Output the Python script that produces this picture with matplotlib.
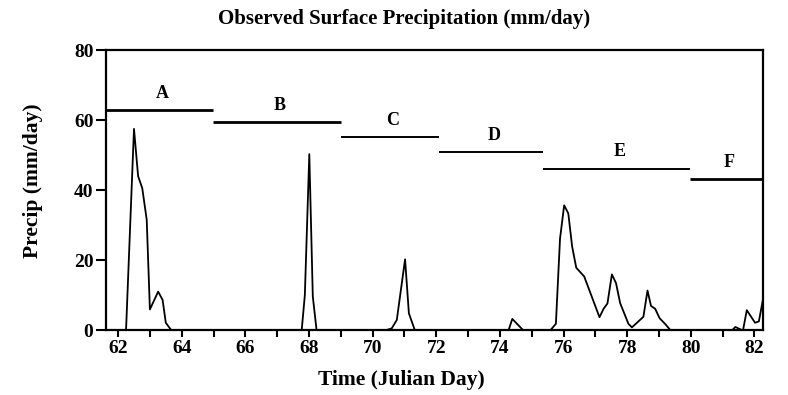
import numpy as np
import matplotlib
matplotlib.use('Agg')
import matplotlib.pyplot as plt

# precipitation trace (vertices)
day = [61.6, 62.25, 62.5, 62.63, 62.76, 62.9, 63.0, 63.26, 63.4, 63.5, 63.68,
       67.77, 67.87, 68.01, 68.12, 68.24,
       70.39, 70.6, 70.76, 71.02, 71.14, 71.33,
       74.27, 74.39, 74.74,
       75.58, 75.76, 75.89, 76.02, 76.15, 76.27, 76.4, 76.65, 77.13, 77.26, 77.38,
       77.52, 77.65, 77.78, 78.04, 78.15, 78.51, 78.64, 78.75, 78.88, 79.02, 79.2, 79.37,
       81.29, 81.4, 81.64, 81.76, 82.02, 82.14, 82.27]
precip = [0, 0, 57.5, 44.0, 40.6, 31.6, 6.0, 11.1, 8.7, 2.2, 0,
          0, 10.1, 50.3, 9.7, 0,
          0, 0.6, 3.0, 20.3, 4.9, 0,
          0, 3.3, 0,
          0, 1.9, 26.2, 35.7, 33.4, 24.0, 17.9, 15.4, 3.8, 6.2, 7.7,
          16.0, 13.5, 7.8, 1.9, 0.9, 3.9, 11.4, 7.0, 6.2, 3.5, 1.8, 0,
          0, 1.0, 0, 5.8, 2.2, 2.6, 9.0]

# period bars
periods = ['A', 'B', 'C', 'D', 'E', 'F']
p_start = [61.6, 64.97, 69.0, 72.08, 75.35, 79.97]
p_end = [64.97, 69.0, 72.08, 75.35, 79.97, 82.27]
p_level = [62.8, 59.4, 55.1, 50.9, 46.2, 43.3]
p_width = [2.0, 2.0, 1.4, 1.4, 1.4, 2.0]

plt.rcParams['font.family'] = ['Liberation Serif', 'DejaVu Serif']
plt.rcParams['font.weight'] = 'bold'

fig = plt.figure(figsize=(7.88, 3.95), dpi=100)
ax = fig.add_axes([0.1345, 0.1633, 0.8338, 0.7101])

ax.plot(day, precip, color='black', lw=1.3)

for name, s, e, lev, w in zip(periods, p_start, p_end, p_level, p_width):
    ax.plot([s, e], [lev, lev], color='black', lw=w, solid_capstyle='butt')
    ax.text((s + e) / 2 + 0.1, lev + 2.3, name, ha='center', va='bottom',
            fontsize=13, fontweight='bold')

ax.set_xlim(61.62, 82.27)
ax.set_ylim(0, 80)
ax.set_xticks(np.arange(62, 83, 2))
ax.set_xticks(np.arange(63, 83, 2), minor=True)
ax.set_yticks([0, 20, 40, 60, 80])
ax.tick_params(axis='both', which='both', direction='out', width=1.5,
               labelsize=14, pad=2)
ax.tick_params(axis='x', which='both', length=5)
ax.tick_params(axis='y', length=7)
for lab in ax.get_xticklabels() + ax.get_yticklabels():
    lab.set_fontweight('bold')
for sp in ax.spines.values():
    sp.set_linewidth(1.6)

fig.text(0.513, 0.952, 'Observed Surface Precipitation (mm/day)', ha='center',
         va='center', fontsize=15, fontweight='bold')
fig.text(0.509, 0.038, 'Time (Julian Day)', ha='center', va='center',
         fontsize=15.5, fontweight='bold')
fig.text(0.042, 0.542, 'Precip (mm/day)', ha='center', va='center',
         rotation=90, fontsize=15.5, fontweight='bold')

fig.savefig('out.png', dpi=100, facecolor='white')
